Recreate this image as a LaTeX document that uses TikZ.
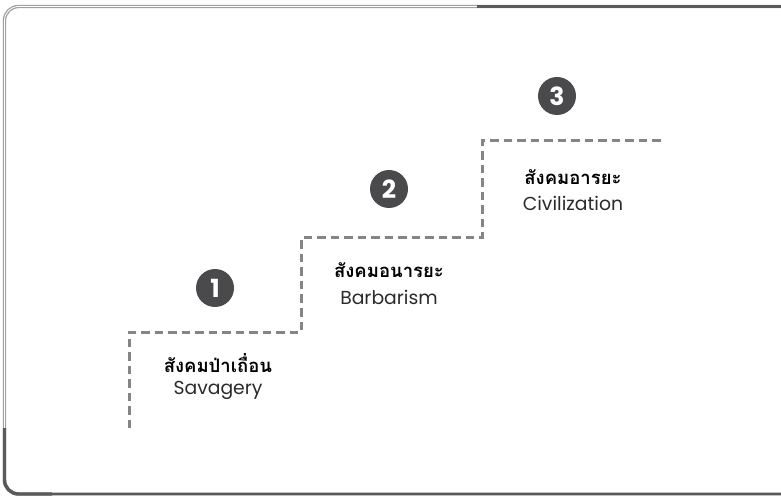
\documentclass[tikz,border=0pt]{standalone}
\usepackage{fontspec}
\setmainfont{Poppins}
\newfontfamily\thaifont[Script=Thai]{Loma}
\definecolor{stairgray}{HTML}{858585}
\definecolor{circgray}{HTML}{4A4A4C}
\definecolor{framelight}{HTML}{A0A0A0}
\definecolor{framedark}{HTML}{5A5A5A}
\definecolor{txt}{HTML}{2B2B2B}
\begin{document}
\begin{tikzpicture}[x=1pt,y=-1pt,
  stair/.style={draw=stairgray,line width=3pt,dash pattern=on 8.5pt off 5pt},
  badge/.style={circle,fill=circgray,minimum size=38pt,inner sep=0pt,text=white,font=\fontsize{25}{25}\selectfont\bfseries},
  thlabel/.style={font=\thaifont\fontsize{18.5}{20}\selectfont\bfseries,text=black,inner sep=0pt},
  enlabel/.style={font=\fontsize{18.8}{20}\selectfont,text=txt,inner sep=0pt}]
\useasboundingbox (0,0) rectangle (781,502);
\fill[white] (0,0) rectangle (781,502);
% frame
\begin{scope}
\clip (0,0) rectangle (781,502);
\draw[framelight,line width=3.4pt,rounded corners=14pt] (4.5,6.5) rectangle (800,494);
\draw[white,line width=0.8pt,rounded corners=14pt] (4.5,6.5) rectangle (800,494);
\draw[framedark,line width=3.4pt] (477,6.5) -- (781,6.5);
\draw[framedark,line width=3.4pt,rounded corners=14pt] (4.5,428) -- (4.5,494) -- (52,494);
\draw[framedark,line width=1.2pt] (52,494) -- (781,494);
\end{scope}
% stairs
\coordinate (s0) at (129,428);
\coordinate (s1) at (129,332);
\coordinate (s2) at (301,332);
\coordinate (s3) at (301,238);
\coordinate (s4) at (482,238);
\coordinate (s5) at (482,141);
\coordinate (s6) at (662,141);
\draw[stair] (s0) -- (s1) -- (s2) -- (s3) -- (s4) -- (s5) -- (s6);
% badges
\node[badge] (b1) at (215,288) {1};
\node[badge] (b2) at (389,189) {2};
\node[badge] (b3) at (557,96) {3};
% labels
\node[thlabel] (t1) at (218,363) {สังคมป่าเถื่อน};
\node[enlabel] (e1) at (218,390) {Savagery};
\node[thlabel] (t2) at (389,270) {สังคมอนารยะ};
\node[enlabel] (e2) at (389,297) {Barbarism};
\node[thlabel] (t3) at (573,177) {สังคมอารยะ};
\node[enlabel] (e3) at (573,203) {Civilization};
\end{tikzpicture}
\end{document}
